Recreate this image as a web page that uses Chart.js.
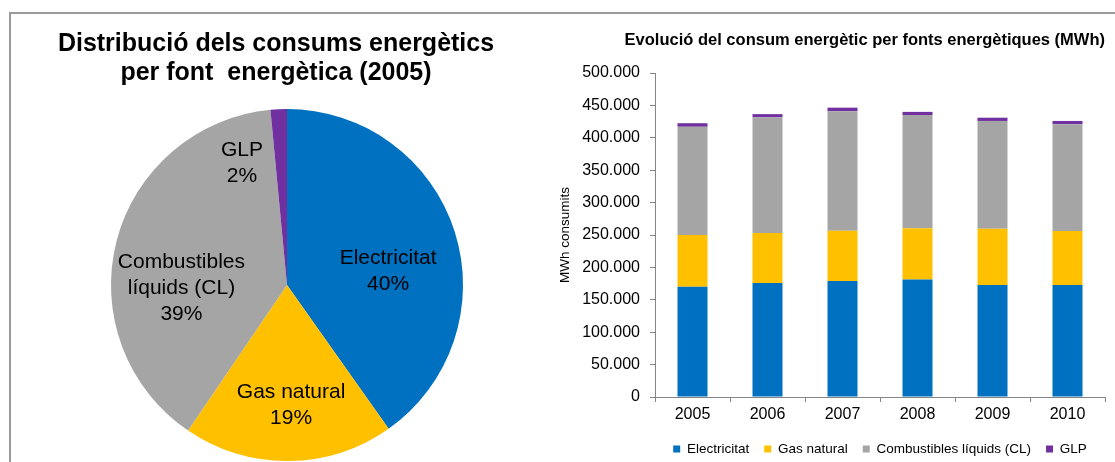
<!DOCTYPE html>
<html>
<head>
<meta charset="utf-8">
<script src="https://cdn.jsdelivr.net/npm/chart.js@4/dist/chart.umd.min.js"></script>
<style>
  body { margin: 0; background: #fff; }
  #frame {
    position: absolute; left: 9px; top: 12px; width: 1110px; height: 460px;
    border-top: 2px solid #9a9a9a; border-left: 2px solid #9a9a9a;
  }
  #pieBox { position: absolute; left: 16px; top: 0; width: 520px; height: 462px; }
  #barBox { position: absolute; left: 545px; top: 0; width: 570px; height: 462px; }
</style>
</head>
<body>
<div id="frame"></div>
<div id="pieBox"><canvas id="pieChart"></canvas></div>
<div id="barBox"><canvas id="barChart"></canvas></div>
<script>
// pie: shares for 2005 (%)
const pieLabels = ["Electricitat", "Gas natural", "Combustibles líquids (CL)", "GLP"];
const pieShares = [40.2, 19.3, 39, 1.5];
const pieTextLines = [["Electricitat"], ["Gas natural"], ["Combustibles", "líquids (CL)"], ["GLP"]];

// bars: MWh per year
const years = ["2005", "2006", "2007", "2008", "2009", "2010"];
const electricitat = [170000, 176000, 179000, 181500, 173000, 173000];
const gasNatural = [80000, 77000, 77500, 79000, 86500, 83000];
const combustibles = [167000, 178500, 184500, 174500, 166500, 165000];
const glp = [5500, 5000, 5500, 5000, 5000, 5000];
const yTicks = [0, 50000, 100000, 150000, 200000, 250000, 300000, 350000, 400000, 450000, 500000];

const colors = ["#0070C0", "#FFC000", "#A5A5A5", "#7030A0"];
const font = "'Liberation Sans', Arial, sans-serif";

// where each pie label sits: fraction of radius, angle shift from slice middle (deg)
const labelPlace = [[0.58, 9.7], [0.685, -1.4], [0.6, -16], [0.74, -17.5]];

const pieLabelPlugin = {
  id: "pieLabels",
  afterDatasetsDraw(chart) {
    const ctx = chart.ctx;
    const meta = chart.getDatasetMeta(0);
    const total = pieShares.reduce((a, b) => a + b, 0);
    ctx.save();
    ctx.font = "21px " + font;
    ctx.fillStyle = "#000";
    ctx.textAlign = "center";
    ctx.textBaseline = "middle";
    meta.data.forEach((arc, i) => {
      const p = arc.getProps(["x", "y", "startAngle", "endAngle", "outerRadius"], true);
      const a = (p.startAngle + p.endAngle) / 2 + labelPlace[i][1] * Math.PI / 180;
      const r = p.outerRadius * labelPlace[i][0];
      const cx = p.x + Math.cos(a) * r;
      const cy = p.y + Math.sin(a) * r;
      const lines = pieTextLines[i].concat([Math.round(pieShares[i] / total * 100) + "%"]);
      const lh = 26;
      lines.forEach((t, k) => {
        ctx.fillText(t, cx, cy + (k - (lines.length - 1) / 2) * lh);
      });
    });
    ctx.restore();
  },
};

new Chart(document.getElementById("pieChart"), {
  type: "pie",
  data: {
    labels: pieLabels,
    datasets: [{ data: pieShares, backgroundColor: colors, borderWidth: 0 }],
  },
  options: {
    responsive: true,
    maintainAspectRatio: false,
    animation: false,
    layout: { padding: { top: 0, bottom: 1, left: 0, right: 0 } },
    plugins: {
      legend: { display: false },
      tooltip: { enabled: false },
      title: {
        display: true,
        text: ["Distribució dels consums energètics", "per font  energètica (2005)"],
        color: "#000",
        font: { family: font, size: 25, weight: "bold", lineHeight: 1.16 },
        padding: { top: 29.5, bottom: 21.5 },
      },
      // empty left box just to push the pie a bit right of the title
      subtitle: {
        display: true,
        position: "left",
        text: "",
        font: { size: 10, lineHeight: 1 },
        padding: 6,
      },
    },
  },
  plugins: [pieLabelPlugin],
});

const fmt = (v) => String(v).replace(/\B(?=(\d{3})+(?!\d))/g, ".");

new Chart(document.getElementById("barChart"), {
  type: "bar",
  data: {
    labels: years,
    datasets: [
      { label: "Electricitat", data: electricitat, backgroundColor: colors[0] },
      { label: "Gas natural", data: gasNatural, backgroundColor: colors[1] },
      { label: "Combustibles líquids (CL)", data: combustibles, backgroundColor: colors[2] },
      { label: "GLP", data: glp, backgroundColor: colors[3] },
    ],
  },
  options: {
    responsive: true,
    maintainAspectRatio: false,
    animation: false,
    datasets: { bar: { barPercentage: 0.4, categoryPercentage: 1 } },
    layout: { padding: { left: 12, right: 10, top: 0, bottom: 0 } },
    scales: {
      x: {
        stacked: true,
        border: { color: "#868686", width: 1 },
        grid: { drawOnChartArea: false, drawTicks: true, tickLength: 5, color: "#868686" },
        ticks: { color: "#000", padding: 3, font: { family: font, size: 16 } },
      },
      y: {
        stacked: true,
        min: 0,
        max: yTicks[yTicks.length - 1],
        afterBuildTicks: (scale) => { scale.ticks = yTicks.map((v) => ({ value: v })); },
        afterFit: (scale) => { scale.width = 98; },
        border: { color: "#868686", width: 1 },
        grid: { drawOnChartArea: false, drawTicks: true, tickLength: 5, color: "#868686" },
        ticks: { color: "#000", padding: 10, font: { family: font, size: 16 }, callback: (v) => fmt(v) },
        title: {
          display: true,
          text: "MWh consumits",
          color: "#000",
          font: { family: font, size: 13.5 },
          padding: 0,
        },
      },
    },
    plugins: {
      tooltip: { enabled: false },
      title: {
        display: true,
        text: "Evolució del consum energètic per fonts energètiques (MWh)",
        align: "end",
        color: "#000",
        font: { family: font, size: 16.5, weight: "bold", lineHeight: 1.2 },
        padding: { top: 30.1, bottom: 23.1 },
      },
      legend: {
        position: "bottom",
        fullSize: false,
        maxHeight: 34.8,
        labels: {
          boxWidth: 7,
          boxHeight: 7,
          padding: 15,
          color: "#000",
          font: { family: font, size: 13.5 },
        },
      },
    },
  },
});
</script>
</body>
</html>
